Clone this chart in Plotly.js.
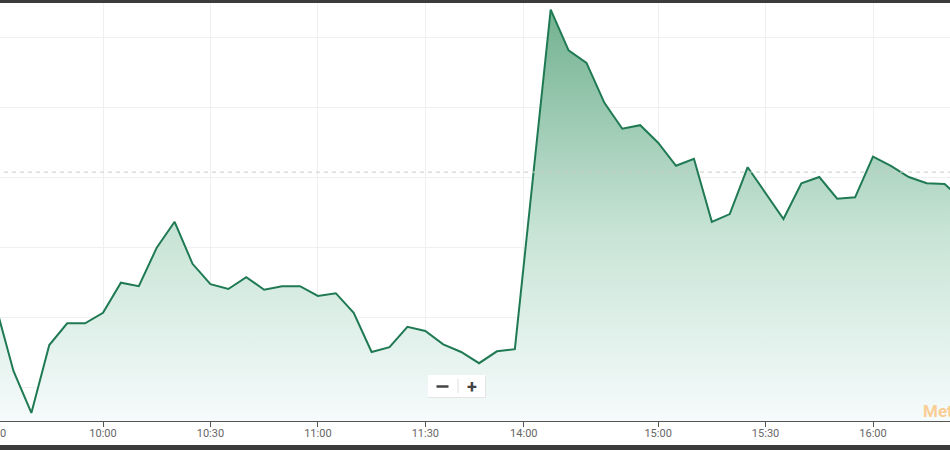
<!DOCTYPE html>
<html>
<head>
<meta charset="utf-8">
<script src="https://cdn.plot.ly/plotly-3.0.1.min.js"></script>
<style>
  html, body { margin:0; padding:0; background:#3b3b3b; width:950px; height:450px; overflow:hidden; }
  #chart { position:absolute; left:-20px; top:3px; width:970px; height:442px; }
</style>
</head>
<body>
<div id="chart"></div>
<script>
// 5-minute sample index (0 = 9:30) and price values
const sampleIndex = [0,1,2,3,4,5,6,7,8,9,10,11,12,13,14,15,16,17,18,19,20,21,22,23,24,25,26,27,28,29,
                     31,32,33,34,35,36,37,38,39,40,41,42,44,45,46,47,48,49,50,51,52,53,54];
const prices = [111.7,102.3,96.3,106.0,109.1,109.1,110.6,114.9,114.4,119.9,123.6,117.6,114.7,114.0,115.7,113.9,114.4,114.4,113.0,113.4,
                110.6,105.0,105.7,108.6,108.0,106.1,105.0,103.4,105.1,105.4,
                153.9,148.1,146.3,140.6,136.9,137.4,134.9,131.6,132.6,123.6,124.7,131.4,124.0,129.1,130.0,126.9,127.1,132.9,131.6,130.0,129.1,129.0,126.7];
const prevClose = 130.7;
const tickPositions = [0,6,12,18,24,29.5,37,43,49];
const tickLabels = ["9:30","10:00","10:30","11:00","11:30","14:00","15:00","15:30","16:00"];

const yMin = 95.143, yMax = 154.857;

const trace = {
  x: sampleIndex,
  y: prices,
  type: 'scatter',
  mode: 'lines',
  line: { color: 'rgb(31,122,84)', width: 2 },
  fill: 'tozeroy',
  fillgradient: {
    type: 'vertical',
    start: yMin,
    stop: yMax,
    colorscale: [[0, 'rgb(246,251,252)'], [0.45, 'rgb(200,228,214)'], [1, 'rgb(112,176,142)']]
  },
  hoverinfo: 'skip'
};

function px(x){ return (x + 20) / 970; }
function py(y){ return (421 - y) / 418; }

const layout = {
  width: 970, height: 442,
  margin: { l: 0, r: 0, t: 0, b: 24 },
  paper_bgcolor: '#ffffff',
  plot_bgcolor: '#ffffff',
  showlegend: false,
  font: { family: 'Roboto, sans-serif', size: 11, color: '#666666' },
  xaxis: {
    type: 'linear',
    range: [-0.869, 53.30],
    tickmode: 'array',
    tickvals: tickPositions,
    ticktext: tickLabels,
    showgrid: true,
    gridcolor: '#efefef',
    gridwidth: 1,
    zeroline: false,
    showline: true,
    linecolor: '#555555',
    linewidth: 1,
    ticks: 'outside',
    ticklen: 5,
    tickcolor: '#555555',
    ticklabelstandoff: -3,
    tickfont: { family: 'Roboto, sans-serif', size: 11, color: '#666666' },
    fixedrange: true
  },
  yaxis: {
    range: [yMin, yMax],
    tick0: 100,
    dtick: 10,
    showgrid: true,
    gridcolor: '#f0f0f0',
    gridwidth: 1,
    zeroline: false,
    showticklabels: false,
    showline: false,
    fixedrange: true
  },
  shapes: [
    { type: 'line', xref: 'paper', x0: 0, x1: 1, yref: 'y', y0: prevClose, y1: prevClose,
      line: { color: '#c8cfc8', width: 1, dash: '4px,4px' } },
    { type: 'rect', xref: 'paper', yref: 'paper', x0: px(428), x1: px(486), y0: py(398), y1: py(376),
      fillcolor: '#e4e4e4', line: { width: 0 } },
    { type: 'rect', xref: 'paper', yref: 'paper', x0: px(428), x1: px(485), y0: py(397), y1: py(375),
      fillcolor: '#ffffff', line: { width: 0 } },
    { type: 'line', xref: 'paper', yref: 'paper', x0: px(458), x1: px(458), y0: py(393), y1: py(379),
      line: { color: '#dddddd', width: 1 } },
    { type: 'line', xref: 'paper', yref: 'paper', x0: px(436.5), x1: px(448.5), y0: py(386.5), y1: py(386.5),
      line: { color: '#444444', width: 2.5 } }
  ],
  annotations: [
    { xref: 'paper', yref: 'paper', x: px(472), y: py(386), text: '<b>+</b>', showarrow: false,
      font: { family: 'Roboto, sans-serif', size: 18, color: '#444444' }, xanchor: 'center', yanchor: 'middle' },
    { xref: 'paper', yref: 'paper', x: px(921), y: py(411), text: '<b>Met</b>', showarrow: false,
      font: { family: 'Roboto, sans-serif', size: 17, color: 'rgb(250,206,150)' }, xanchor: 'left', yanchor: 'middle' }
  ]
};

Plotly.newPlot('chart', [trace], layout, { displayModeBar: false, staticPlot: true });
</script>
</body>
</html>
